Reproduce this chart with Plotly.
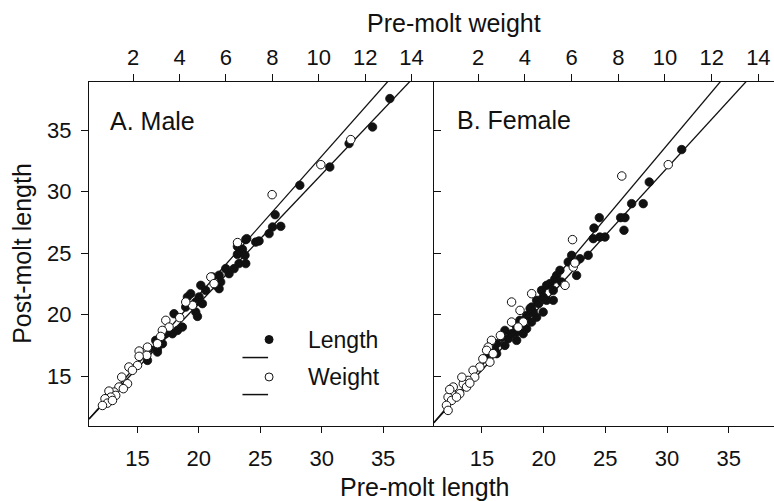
import numpy as np
import plotly.graph_objects as go

# ---------------- data ----------------
# Panel A (Male): filled = pre-molt length, open = pre-molt weight
male_len_x = [35.55, 34.14, 32.23, 30.66, 28.22, 26.21, 26.0, 26.67, 25.72, 24.9, 24.63, 23.82, 23.14,
              23.9, 23.55, 23.14, 23.76, 23.27, 23.82, 22.87, 22.19, 22.46, 21.65, 21.78, 21.38, 21.11,
              20.16, 20.56, 21.65, 19.34, 19.07, 20.02, 19.75, 20.29, 19.75, 19.89, 18.93, 17.98, 18.66,
              17.85, 18.26, 17.31, 16.49, 17.04, 16.63, 15.95, 16.63, 15.82]
male_len_y = [37.58, 35.27, 33.92, 32.01, 30.52, 28.13, 27.13, 27.18, 26.59, 25.99, 25.9, 26.1, 25.55,
              26.18, 25.31, 24.9, 24.82, 24.15, 24.15, 23.74, 23.74, 23.33, 23.2, 22.65, 22.38, 23.06,
              22.38, 21.97, 22.11, 21.7, 21.43, 21.43, 21.02, 20.89, 20.2, 19.85, 20.61, 20.07, 18.98,
              18.44, 18.71, 18.44, 17.9, 17.63, 17.22, 17.22, 16.95, 16.27]
male_wt_x = [11.38, 10.09, 7.99, 6.5, 5.35, 5.49, 4.56, 4.27, 4.01, 3.41, 3.55, 3.26, 3.19, 3.05, 2.62,
             2.26, 2.59, 2.26, 2.19, 1.82, 1.97, 1.51, 1.76, 1.39, 1.58, 1.18, 0.96, 1.25, 1.04, 0.79,
             0.89, 0.68, 1.11]
male_wt_y = [34.24, 32.2, 29.76, 25.86, 23.06, 22.52, 20.75, 21.02, 19.75, 19.53, 18.98, 18.71, 18.22,
             17.63, 17.35, 17.03, 16.68, 16.6, 15.86, 15.73, 15.46, 14.91, 14.37, 14.1, 13.97, 13.69,
             13.77, 13.42, 13.28, 13.15, 12.79, 12.6, 13.01]

# Panel B (Female)
fem_len_x = [31.19, 28.56, 27.13, 28.07, 26.24, 26.59, 26.51, 24.51, 24.08, 24.02, 24.56, 24.97, 23.61,
             22.94, 21.99, 22.67, 21.05, 21.46, 20.24, 20.78, 19.83, 19.43, 20.24, 20.78, 19.02, 19.96,
             18.62, 19.43, 18.07, 19.02, 18.62, 17.81, 16.86, 17.13, 17.81, 16.86, 16.19, 16.05, 15.37,
             16.19, 20.51, 19.96, 19.15, 18.34, 17.4, 16.59, 21.32, 22.27, 20.9, 19.6, 18.9, 17.7]
fem_len_y = [33.43, 30.79, 29.03, 29.03, 27.89, 27.89, 26.86, 27.89, 27.04, 26.18, 26.31, 26.31, 24.82,
             24.55, 24.28, 23.19, 23.19, 22.65, 22.38, 21.97, 21.97, 21.16, 21.16, 21.16, 20.61, 20.2,
             19.93, 19.79, 19.53, 19.39, 18.85, 18.58, 18.71, 18.04, 17.9, 17.49, 17.63, 17.09, 16.54,
             16.82, 22.52, 21.43, 20.2, 18.44, 18.44, 18.17, 23.6, 24.82, 22.9, 20.9, 20.5, 19.2]
fem_wt_x = [10.14, 8.15, 6.04, 4.29, 3.43, 3.79, 3.43, 3.93, 3.71, 5.72, 6.07, 2.57, 2.43, 2.36, 2.64,
            2.5, 2.07, 1.78, 1.85, 1.57, 1.36, 1.21, 0.86, 0.71, 0.86, 0.64, 0.71, 1.5, 1.64, 1.07, 0.93,
            6.14, 2.95, 2.2, 1.3, 0.78]
fem_wt_y = [32.2, 31.28, 26.1, 21.7, 21.02, 20.34, 19.39, 19.39, 18.98, 22.38, 23.87, 17.9, 17.35, 17.09,
            16.82, 16.13, 15.73, 15.46, 14.91, 14.64, 14.37, 13.56, 13.69, 13.28, 13.01, 12.61, 12.2,
            14.1, 14.42, 13.28, 14.1, 24.2, 18.3, 16.4, 14.9, 13.9]

# regression fits (slope, intercept)
male_len_fit = (1.052, -0.14)
male_wt_fit = (2.133, 11.29)
fem_len_fit = (1.097, -0.98)
fem_wt_fit = (2.262, 10.97)

len_ticks = [15, 20, 25, 30, 35]
wt_ticks = [2, 4, 6, 8, 10, 12, 14]
post_ticks = [15, 20, 25, 30, 35]
male_right_ticks = [14.48, 18.23, 21.97, 25.8, 29.54, 33.21, 36.95]

# ---------------- layout constants ----------------
W, H = 774, 501
ML, MR, MT, MB = 89.3, 0, 82, 75.3
split = (434 - ML) / (W - ML - MR)

xA_len = [11.06, 39.13]
xA_wt = [0.1, 14.96]
xB_len = [11.1, 38.67]
xB_wt = [0.1, 14.67]
y_rng = [10.93, 38.93]

FONT = "Liberation Sans, Arial, sans-serif"
INK = "#111111"

fig = go.Figure()


def fit_line(fit, rng):
    xs = np.linspace(rng[0], rng[1], 50)
    return xs, fit[0] * xs + fit[1]


line_style = dict(color=INK, width=1.3)
filled = dict(color=INK, size=8.5, line=dict(color=INK, width=0.8))
hollow = dict(color="white", size=8.5, line=dict(color=INK, width=1))

# Panel A
lx, ly = fit_line(male_len_fit, xA_len)
fig.add_trace(go.Scatter(x=lx, y=ly, mode="lines", line=line_style, xaxis="x", yaxis="y", showlegend=False))
fig.add_trace(go.Scatter(x=male_len_x, y=male_len_y, mode="markers", marker=filled, xaxis="x", yaxis="y",
                         showlegend=False))
wx, wy = fit_line(male_wt_fit, xA_wt)
fig.add_trace(go.Scatter(x=wx, y=wy, mode="lines", line=line_style, xaxis="x3", yaxis="y", showlegend=False))
fig.add_trace(go.Scatter(x=male_wt_x, y=male_wt_y, mode="markers", marker=hollow, xaxis="x3", yaxis="y",
                         showlegend=False))

# Panel B
lx, ly = fit_line(fem_len_fit, xB_len)
fig.add_trace(go.Scatter(x=lx, y=ly, mode="lines", line=line_style, xaxis="x2", yaxis="y2", showlegend=False))
fig.add_trace(go.Scatter(x=fem_len_x, y=fem_len_y, mode="markers", marker=filled, xaxis="x2", yaxis="y2",
                         showlegend=False))
wx, wy = fit_line(fem_wt_fit, xB_wt)
fig.add_trace(go.Scatter(x=wx, y=wy, mode="lines", line=line_style, xaxis="x4", yaxis="y2", showlegend=False))
fig.add_trace(go.Scatter(x=fem_wt_x, y=fem_wt_y, mode="markers", marker=hollow, xaxis="x4", yaxis="y2",
                         showlegend=False))

tickfont = dict(family=FONT, size=22, color=INK)
common = dict(linecolor=INK, linewidth=1.3, showgrid=False, zeroline=False,
              tickcolor=INK, tickwidth=1.2, tickfont=tickfont, tickmode="array")

fig.update_layout(
    width=W, height=H,
    margin=dict(l=ML, r=MR, t=MT, b=MB, pad=0),
    paper_bgcolor="white", plot_bgcolor="white",
    font=dict(family=FONT, color=INK),
    xaxis=dict(domain=[0, split], range=xA_len, anchor="y", tickvals=len_ticks, ticks="outside",
               ticklen=6, ticklabelstandoff=6, showline=True, **common),
    xaxis3=dict(overlaying="x", side="top", anchor="y", range=xA_wt, tickvals=wt_ticks,
                ticks="outside", ticklen=7, showline=True, **common),
    xaxis2=dict(domain=[split, 1], range=xB_len, anchor="y2", tickvals=len_ticks, ticks="outside",
                ticklen=6, ticklabelstandoff=6, showline=True, **common),
    xaxis4=dict(overlaying="x2", side="top", anchor="y2", range=xB_wt, tickvals=wt_ticks,
                ticks="outside", ticklen=7, showline=True, **common),
    yaxis=dict(domain=[0, 1], range=y_rng, anchor="x", tickvals=post_ticks, ticks="outside",
               ticklen=7, ticklabelstandoff=5, showline=True, **common),
    yaxis3=dict(overlaying="y", side="right", anchor="x", range=y_rng, tickvals=male_right_ticks,
                ticks="inside", ticklen=7, showticklabels=False, showline=False, **common),
    yaxis2=dict(domain=[0, 1], range=y_rng, anchor="x2", tickvals=post_ticks, ticks="inside",
                ticklen=7, showticklabels=False, showline=True, **common),
)

pw = W - ML - MR
ph = H - MT - MB


def px_x(p):
    return (p - ML) / pw


def px_y(p):
    return (H - MB - p) / ph


ann = []
title_font = dict(family=FONT, size=25, color=INK)
label_font = dict(family=FONT, size=25, color=INK)
legend_font = dict(family=FONT, size=23, color=INK)
ann.append(dict(text="Pre-molt weight", x=px_x(454), y=px_y(23), xref="paper", yref="paper",
                showarrow=False, xanchor="center", yanchor="middle", font=title_font))
ann.append(dict(text="Pre-molt length", x=px_x(425), y=px_y(487), xref="paper", yref="paper",
                showarrow=False, xanchor="center", yanchor="middle", font=title_font))
ann.append(dict(text="Post-molt length", x=px_x(22), y=px_y(253), xref="paper", yref="paper",
                showarrow=False, xanchor="center", yanchor="middle", textangle=-90, font=title_font))
ann.append(dict(text="A. Male", x=px_x(108), y=px_y(121), xref="paper", yref="paper",
                showarrow=False, xanchor="left", yanchor="middle", font=label_font))
ann.append(dict(text="B. Female", x=px_x(455), y=px_y(120), xref="paper", yref="paper",
                showarrow=False, xanchor="left", yanchor="middle", font=label_font))
ann.append(dict(text="Length", x=px_x(306), y=px_y(340), xref="paper", yref="paper",
                showarrow=False, xanchor="left", yanchor="middle", font=legend_font))
ann.append(dict(text="Weight", x=px_x(306), y=px_y(377), xref="paper", yref="paper",
                showarrow=False, xanchor="left", yanchor="middle", font=legend_font))

shapes = []
for cy, fill in [(339.3, INK), (376.7, "white")]:
    shapes.append(dict(type="circle", xref="paper", yref="paper", xsizemode="pixel", ysizemode="pixel",
                       xanchor=px_x(269.3), yanchor=px_y(cy), x0=-4, x1=4, y0=-4, y1=4,
                       fillcolor=fill, line=dict(color=INK, width=1)))
for ly_ in [357.3, 394.3]:
    shapes.append(dict(type="line", xref="paper", yref="paper", x0=px_x(242.7), x1=px_x(268.3),
                       y0=px_y(ly_), y1=px_y(ly_), line=dict(color=INK, width=1.5)))

fig.update_layout(annotations=ann, shapes=shapes)

fig.write_html("out.html")
